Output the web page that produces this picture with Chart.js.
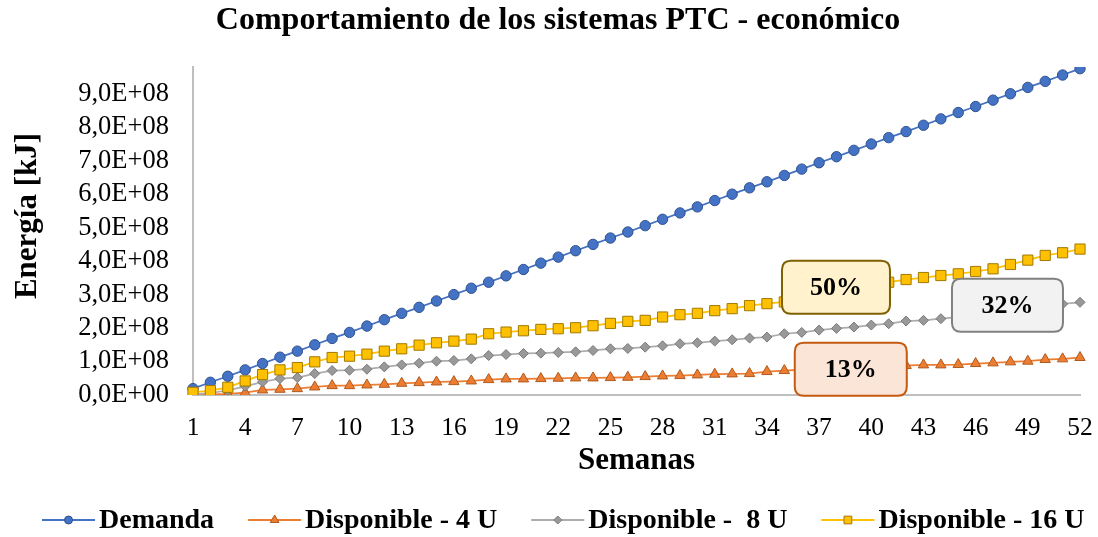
<!DOCTYPE html>
<html><head><meta charset="utf-8">
<script src="https://cdn.jsdelivr.net/npm/chart.js"></script>
<style>html,body{margin:0;padding:0;background:#fff;overflow:hidden}</style>
</head><body>
<canvas id="c" width="1098" height="537"></canvas>
<script>
const weeks = ['1','2','3','4','5','6','7','8','9','10','11','12','13','14','15','16','17','18','19','20','21','22','23','24','25','26','27','28','29','30','31','32','33','34','35','36','37','38','39','40','41','42','43','44','45','46','47','48','49','50','51','52'];

const yTickValues = [0, 1e8, 2e8, 3e8, 4e8, 5e8, 6e8, 7e8, 8e8, 9e8];

const demanda = [0.19e8,0.38e8,0.56e8,0.75e8,0.94e8,1.13e8,1.31e8,1.50e8,1.69e8,1.87e8,2.06e8,2.25e8,2.44e8,2.62e8,2.81e8,3.00e8,3.19e8,3.37e8,3.56e8,3.75e8,3.94e8,4.12e8,4.31e8,4.50e8,4.69e8,4.87e8,5.06e8,5.25e8,5.44e8,5.62e8,5.81e8,6.00e8,6.19e8,6.37e8,6.56e8,6.75e8,6.94e8,7.12e8,7.31e8,7.50e8,7.69e8,7.87e8,8.06e8,8.25e8,8.44e8,8.62e8,8.81e8,9.00e8,9.19e8,9.37e8,9.56e8,9.75e8];

const disp4 = [0.005e8,0.015e8,0.03e8,0.07e8,0.15e8,0.17e8,0.19e8,0.24e8,0.28e8,0.28e8,0.30e8,0.32e8,0.35e8,0.37e8,0.39e8,0.40e8,0.42e8,0.46e8,0.48e8,0.48e8,0.49e8,0.50e8,0.51e8,0.51e8,0.52e8,0.53e8,0.55e8,0.57e8,0.58e8,0.60e8,0.62e8,0.63e8,0.64e8,0.70e8,0.73e8,0.76e8,0.78e8,0.80e8,0.82e8,0.84e8,0.86e8,0.88e8,0.90e8,0.90e8,0.91e8,0.94e8,0.96e8,0.99e8,1.01e8,1.06e8,1.08e8,1.12e8];

const disp8 = [0.01e8,0.06e8,0.14e8,0.26e8,0.39e8,0.49e8,0.52e8,0.64e8,0.73e8,0.74e8,0.77e8,0.84e8,0.90e8,0.95e8,1.01e8,1.03e8,1.08e8,1.18e8,1.21e8,1.24e8,1.25e8,1.27e8,1.29e8,1.33e8,1.38e8,1.39e8,1.43e8,1.47e8,1.53e8,1.56e8,1.61e8,1.65e8,1.70e8,1.73e8,1.83e8,1.87e8,1.94e8,1.99e8,2.03e8,2.09e8,2.13e8,2.21e8,2.23e8,2.28e8,2.33e8,2.39e8,2.45e8,2.52e8,2.59e8,2.66e8,2.72e8,2.77e8];

const disp16 = [0.08e8,0.13e8,0.23e8,0.42e8,0.61e8,0.75e8,0.82e8,0.99e8,1.12e8,1.16e8,1.22e8,1.31e8,1.38e8,1.49e8,1.56e8,1.61e8,1.67e8,1.83e8,1.88e8,1.92e8,1.96e8,1.98e8,2.01e8,2.07e8,2.14e8,2.20e8,2.23e8,2.33e8,2.40e8,2.44e8,2.52e8,2.58e8,2.67e8,2.73e8,2.78e8,2.85e8,2.95e8,3.05e8,3.17e8,3.28e8,3.37e8,3.45e8,3.51e8,3.57e8,3.62e8,3.69e8,3.77e8,3.90e8,4.03e8,4.17e8,4.25e8,4.36e8];

const seriesNames = ['Demanda','Disponible - 4 U','Disponible -  8 U','Disponible - 16 U'];
const noteTexts = ['50%','32%','13%'];

const FONT = '"Liberation Serif", "Times New Roman", serif';
Chart.defaults.font.family = FONT;
Chart.defaults.color = '#000';

function sci(v){
  if (v === 0) return '0,0E+00';
  const e = Math.floor(Math.log10(Math.abs(v)) + 1e-9);
  const m = v / Math.pow(10, e);
  return m.toFixed(1).replace('.', ',') + 'E' + (e < 0 ? '-' : '+') + String(Math.abs(e)).padStart(2, '0');
}

function marker(ctx, style, x, y, r, fill, stroke){
  ctx.save();
  ctx.fillStyle = fill; ctx.strokeStyle = stroke; ctx.lineWidth = 1;
  ctx.beginPath();
  if (style === 'circle') { ctx.arc(x, y, r, 0, Math.PI*2); }
  else if (style === 'triangle') {
    ctx.moveTo(x, y - r);
    ctx.lineTo(x + r*Math.sin(2*Math.PI/3), y - r*Math.cos(2*Math.PI/3));
    ctx.lineTo(x + r*Math.sin(4*Math.PI/3), y - r*Math.cos(4*Math.PI/3));
    ctx.closePath();
  } else if (style === 'rectRot') {
    ctx.moveTo(x, y - r); ctx.lineTo(x + r, y); ctx.lineTo(x, y + r); ctx.lineTo(x - r, y); ctx.closePath();
  } else {
    const s = r * Math.SQRT1_2; ctx.rect(x - s, y - s, 2*s, 2*s);
  }
  ctx.fill(); ctx.stroke();
  ctx.restore();
}

const annotations = [
  {text: noteTexts[0], x: 36.97, y: 3.22e8, w: 108, h: 53, fill: '#FFF2CC', stroke: '#7F6000'},
  {text: noteTexts[1], x: 46.83, y: 2.68e8, w: 111, h: 53, fill: '#F2F2F2', stroke: '#808080'},
  {text: noteTexts[2], x: 37.82, y: 0.77e8, w: 112, h: 53, fill: '#FBE5D6', stroke: '#C55A11'}
];

function roundRect(ctx, x, y, w, h, r){
  ctx.beginPath();
  ctx.moveTo(x + r, y);
  ctx.lineTo(x + w - r, y); ctx.quadraticCurveTo(x + w, y, x + w, y + r);
  ctx.lineTo(x + w, y + h - r); ctx.quadraticCurveTo(x + w, y + h, x + w - r, y + h);
  ctx.lineTo(x + r, y + h); ctx.quadraticCurveTo(x, y + h, x, y + h - r);
  ctx.lineTo(x, y + r); ctx.quadraticCurveTo(x, y, x + r, y);
  ctx.closePath();
}

const extras = {
  id: 'extras',
  afterDatasetsDraw(chart){
    const ctx = chart.ctx, xs = chart.scales.x, ys = chart.scales.y;
    ctx.save();
    annotations.forEach(a => {
      const cx = xs.getPixelForValue(a.x), cy = ys.getPixelForValue(a.y);
      roundRect(ctx, cx - a.w/2, cy - a.h/2, a.w, a.h, 9);
      ctx.fillStyle = a.fill; ctx.fill();
      ctx.lineWidth = 2; ctx.strokeStyle = a.stroke; ctx.stroke();
      ctx.fillStyle = '#000';
      ctx.font = 'bold 26px ' + FONT;
      ctx.textAlign = 'center'; ctx.textBaseline = 'middle';
      ctx.fillText(a.text, cx, cy + 1);
    });
    ctx.restore();
  },
  afterDraw(chart){
    const ctx = chart.ctx;
    ctx.save();
    // title
    ctx.fillStyle = '#000';
    ctx.font = 'bold 32px ' + FONT;
    ctx.textAlign = 'center'; ctx.textBaseline = 'middle';
    ctx.fillText('Comportamiento de los sistemas PTC - económico', 558, 21);
    // y axis title
    ctx.save();
    ctx.translate(28, 216);
    ctx.rotate(-Math.PI/2);
    ctx.font = 'bold 31px ' + FONT;
    ctx.fillText('Energía [kJ]', 0, 0);
    ctx.restore();
    // legend
    ctx.font = 'bold 28px ' + FONT;
    ctx.textAlign = 'left';
    let x = 42; const y = 520;
    [0,1,2,3].forEach(i => {
      const ds = chart.data.datasets[i];
      ctx.strokeStyle = ds.borderColor; ctx.lineWidth = 2;
      ctx.beginPath(); ctx.moveTo(x, y); ctx.lineTo(x + 53, y); ctx.stroke();
      marker(ctx, ds.pointStyle, x + 26.5, y, ds.legendR, ds.pointBackgroundColor, ds.pointBorderColor);
      ctx.fillStyle = '#000';
      ctx.fillText(ds.label, x + 57, y + 1);
      x += 57 + ctx.measureText(ds.label).width + 34;
    });
    ctx.restore();
  }
};

new Chart(document.getElementById('c'), {
  type: 'line',
  data: {
    labels: weeks,
    datasets: [
      {label: seriesNames[0], data: demanda, borderColor: '#4472C4', borderWidth: 1.75,
       pointStyle: 'circle', pointRadius: 5.2, pointBackgroundColor: '#4472C4', pointBorderColor: '#2F528F', pointBorderWidth: 1, legendR: 4, order: 3},
      {label: seriesNames[1], data: disp4, borderColor: '#ED7D31', borderWidth: 1.75,
       pointStyle: 'triangle', pointRadius: 6, pointBackgroundColor: '#ED7D31', pointBorderColor: '#AE5A21', pointBorderWidth: 1, legendR: 5, order: 2},
      {label: seriesNames[2], data: disp8, borderColor: '#ADADAD', borderWidth: 1.75,
       pointStyle: 'rectRot', pointRadius: 5, pointBackgroundColor: '#999999', pointBorderColor: '#787878', pointBorderWidth: 1, legendR: 4, order: 1},
      {label: seriesNames[3], data: disp16, borderColor: '#FFC000', borderWidth: 1.75,
       pointStyle: 'rect', pointRadius: 7.2, pointBackgroundColor: '#FFC000', pointBorderColor: '#A07A00', pointBorderWidth: 1, legendR: 5.5, order: 0}
    ]
  },
  options: {
    responsive: false,
    animation: false,
    devicePixelRatio: 1,
    layout: {padding: {top: 67, left: 9, right: 18, bottom: 57}},
    plugins: {legend: {display: false}, title: {display: false}, tooltip: {enabled: false}},
    elements: {line: {tension: 0}},
    scales: {
      x: {
        type: 'category', offset: false,
        grid: {display: false, drawTicks: false},
        border: {display: true, color: '#BFBFBF', width: 2},
        ticks: {autoSkip: false, maxRotation: 0, minRotation: 0, padding: 0, color: '#000',
                font: {size: 25.5, lineHeight: 2.6},
                callback: function(v, i){ return i % 3 === 0 ? weeks[i] : ''; }},
        title: {display: true, text: 'Semanas', font: {size: 31, weight: 'bold'}, color: '#000', padding: 0},
        afterFit: s => { s.height = 85; }
      },
      y: {
        min: 0, max: 9.8e8,
        grid: {display: false, drawTicks: false},
        border: {display: true, color: '#BFBFBF', width: 2},
        ticks: {autoSkip: false, padding: 24, color: '#000', font: {size: 26.5, lineHeight: 1},
                callback: v => sci(v)},
        afterBuildTicks: s => { s.ticks = yTickValues.map(v => ({value: v})); },
        title: {display: false},
        afterFit: s => { s.width = 184; }
      }
    }
  },
  plugins: [extras]
});
</script>
</body></html>
